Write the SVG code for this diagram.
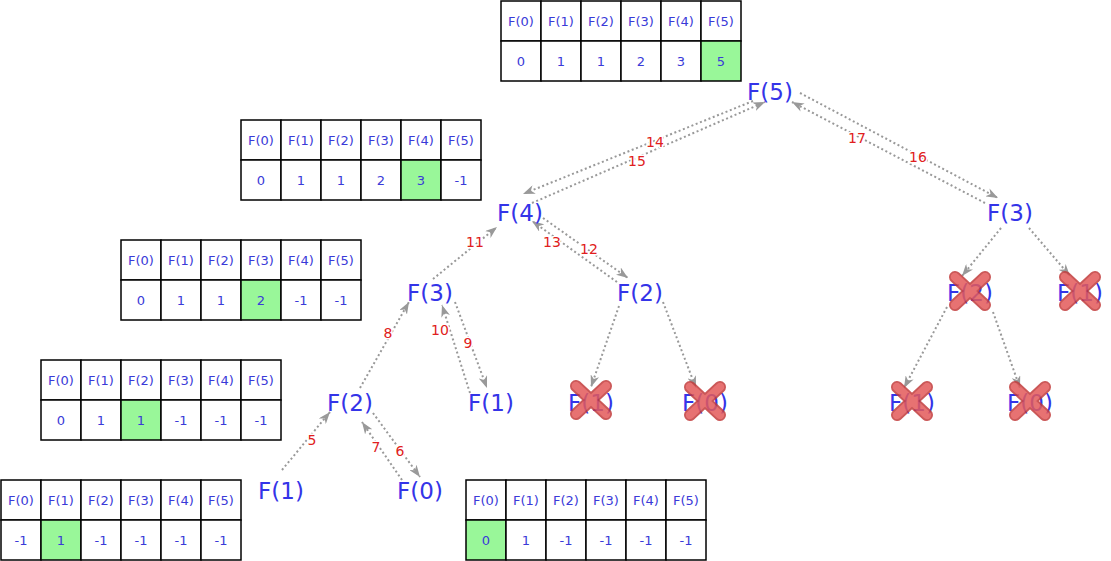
<svg xmlns="http://www.w3.org/2000/svg" width="1111" height="561" viewBox="0 0 1111 561">
<defs>
<style>
.cell{fill:#fff;stroke:#000;stroke-width:1.5}
.hl{fill:#99f799;stroke:#000;stroke-width:1.5}
.ct{font-family:"DejaVu Sans",Verdana,sans-serif;font-size:13px;fill:#3a3ad8;text-anchor:middle}
.node{font-family:"DejaVu Sans",Verdana,sans-serif;font-size:23px;fill:#3434e8;text-anchor:middle}
.edge{fill:none;stroke:#999;stroke-width:2;stroke-dasharray:2 2.6;marker-end:url(#arr)}
.lbl{font-family:"DejaVu Sans",Verdana,sans-serif;font-size:14px;fill:#e02020;text-anchor:middle;stroke:#fff;stroke-width:3;paint-order:stroke}
.xo{stroke:#c23b3b;stroke-width:12;stroke-linecap:round}
.xi{stroke:#e35a5a;stroke-width:8.5;stroke-linecap:round}
</style>
<marker id="arr" viewBox="0 0 12 9" refX="12" refY="4.5" markerWidth="12" markerHeight="9" markerUnits="userSpaceOnUse" orient="auto">
<path d="M0,0 L12,4.5 L0,9 L3.5,4.5 Z" fill="#999"/>
</marker>
<g id="cross">
<g opacity="0.85">
<line class="xo" x1="-15" y1="-14" x2="15" y2="14"/>
<line class="xo" x1="15" y1="-14" x2="-15" y2="14"/>
<line class="xi" x1="-15" y1="-14" x2="15" y2="14"/>
<line class="xi" x1="15" y1="-14" x2="-15" y2="14"/>
</g>
</g>
</defs>
<rect width="1111" height="561" fill="#fff"/>

<!-- tables -->
<g id="table-f5" transform="translate(501,1)">
<rect class="cell" x="0" y="0" width="40" height="40"/><rect class="cell" x="40" y="0" width="40" height="40"/><rect class="cell" x="80" y="0" width="40" height="40"/><rect class="cell" x="120" y="0" width="40" height="40"/><rect class="cell" x="160" y="0" width="40" height="40"/><rect class="cell" x="200" y="0" width="40" height="40"/>
<rect class="cell" x="0" y="40" width="40" height="40"/><rect class="cell" x="40" y="40" width="40" height="40"/><rect class="cell" x="80" y="40" width="40" height="40"/><rect class="cell" x="120" y="40" width="40" height="40"/><rect class="cell" x="160" y="40" width="40" height="40"/><rect class="hl" x="200" y="40" width="40" height="40"/>
<text class="ct" x="20" y="25">F(0)</text><text class="ct" x="60" y="25">F(1)</text><text class="ct" x="100" y="25">F(2)</text><text class="ct" x="140" y="25">F(3)</text><text class="ct" x="180" y="25">F(4)</text><text class="ct" x="220" y="25">F(5)</text>
<text class="ct" x="20" y="65">0</text><text class="ct" x="60" y="65">1</text><text class="ct" x="100" y="65">1</text><text class="ct" x="140" y="65">2</text><text class="ct" x="180" y="65">3</text><text class="ct" x="220" y="65">5</text>
</g>
<g id="table-f4" transform="translate(241,120)">
<rect class="cell" x="0" y="0" width="40" height="40"/><rect class="cell" x="40" y="0" width="40" height="40"/><rect class="cell" x="80" y="0" width="40" height="40"/><rect class="cell" x="120" y="0" width="40" height="40"/><rect class="cell" x="160" y="0" width="40" height="40"/><rect class="cell" x="200" y="0" width="40" height="40"/>
<rect class="cell" x="0" y="40" width="40" height="40"/><rect class="cell" x="40" y="40" width="40" height="40"/><rect class="cell" x="80" y="40" width="40" height="40"/><rect class="cell" x="120" y="40" width="40" height="40"/><rect class="hl" x="160" y="40" width="40" height="40"/><rect class="cell" x="200" y="40" width="40" height="40"/>
<text class="ct" x="20" y="25">F(0)</text><text class="ct" x="60" y="25">F(1)</text><text class="ct" x="100" y="25">F(2)</text><text class="ct" x="140" y="25">F(3)</text><text class="ct" x="180" y="25">F(4)</text><text class="ct" x="220" y="25">F(5)</text>
<text class="ct" x="20" y="65">0</text><text class="ct" x="60" y="65">1</text><text class="ct" x="100" y="65">1</text><text class="ct" x="140" y="65">2</text><text class="ct" x="180" y="65">3</text><text class="ct" x="220" y="65">-1</text>
</g>
<g id="table-f3" transform="translate(121,240)">
<rect class="cell" x="0" y="0" width="40" height="40"/><rect class="cell" x="40" y="0" width="40" height="40"/><rect class="cell" x="80" y="0" width="40" height="40"/><rect class="cell" x="120" y="0" width="40" height="40"/><rect class="cell" x="160" y="0" width="40" height="40"/><rect class="cell" x="200" y="0" width="40" height="40"/>
<rect class="cell" x="0" y="40" width="40" height="40"/><rect class="cell" x="40" y="40" width="40" height="40"/><rect class="cell" x="80" y="40" width="40" height="40"/><rect class="hl" x="120" y="40" width="40" height="40"/><rect class="cell" x="160" y="40" width="40" height="40"/><rect class="cell" x="200" y="40" width="40" height="40"/>
<text class="ct" x="20" y="25">F(0)</text><text class="ct" x="60" y="25">F(1)</text><text class="ct" x="100" y="25">F(2)</text><text class="ct" x="140" y="25">F(3)</text><text class="ct" x="180" y="25">F(4)</text><text class="ct" x="220" y="25">F(5)</text>
<text class="ct" x="20" y="65">0</text><text class="ct" x="60" y="65">1</text><text class="ct" x="100" y="65">1</text><text class="ct" x="140" y="65">2</text><text class="ct" x="180" y="65">-1</text><text class="ct" x="220" y="65">-1</text>
</g>
<g id="table-f2" transform="translate(41,360)">
<rect class="cell" x="0" y="0" width="40" height="40"/><rect class="cell" x="40" y="0" width="40" height="40"/><rect class="cell" x="80" y="0" width="40" height="40"/><rect class="cell" x="120" y="0" width="40" height="40"/><rect class="cell" x="160" y="0" width="40" height="40"/><rect class="cell" x="200" y="0" width="40" height="40"/>
<rect class="cell" x="0" y="40" width="40" height="40"/><rect class="cell" x="40" y="40" width="40" height="40"/><rect class="hl" x="80" y="40" width="40" height="40"/><rect class="cell" x="120" y="40" width="40" height="40"/><rect class="cell" x="160" y="40" width="40" height="40"/><rect class="cell" x="200" y="40" width="40" height="40"/>
<text class="ct" x="20" y="25">F(0)</text><text class="ct" x="60" y="25">F(1)</text><text class="ct" x="100" y="25">F(2)</text><text class="ct" x="140" y="25">F(3)</text><text class="ct" x="180" y="25">F(4)</text><text class="ct" x="220" y="25">F(5)</text>
<text class="ct" x="20" y="65">0</text><text class="ct" x="60" y="65">1</text><text class="ct" x="100" y="65">1</text><text class="ct" x="140" y="65">-1</text><text class="ct" x="180" y="65">-1</text><text class="ct" x="220" y="65">-1</text>
</g>
<g id="table-f1" transform="translate(1,480)">
<rect class="cell" x="0" y="0" width="40" height="40"/><rect class="cell" x="40" y="0" width="40" height="40"/><rect class="cell" x="80" y="0" width="40" height="40"/><rect class="cell" x="120" y="0" width="40" height="40"/><rect class="cell" x="160" y="0" width="40" height="40"/><rect class="cell" x="200" y="0" width="40" height="40"/>
<rect class="cell" x="0" y="40" width="40" height="40"/><rect class="hl" x="40" y="40" width="40" height="40"/><rect class="cell" x="80" y="40" width="40" height="40"/><rect class="cell" x="120" y="40" width="40" height="40"/><rect class="cell" x="160" y="40" width="40" height="40"/><rect class="cell" x="200" y="40" width="40" height="40"/>
<text class="ct" x="20" y="25">F(0)</text><text class="ct" x="60" y="25">F(1)</text><text class="ct" x="100" y="25">F(2)</text><text class="ct" x="140" y="25">F(3)</text><text class="ct" x="180" y="25">F(4)</text><text class="ct" x="220" y="25">F(5)</text>
<text class="ct" x="20" y="65">-1</text><text class="ct" x="60" y="65">1</text><text class="ct" x="100" y="65">-1</text><text class="ct" x="140" y="65">-1</text><text class="ct" x="180" y="65">-1</text><text class="ct" x="220" y="65">-1</text>
</g>
<g id="table-f0" transform="translate(466,480)">
<rect class="cell" x="0" y="0" width="40" height="40"/><rect class="cell" x="40" y="0" width="40" height="40"/><rect class="cell" x="80" y="0" width="40" height="40"/><rect class="cell" x="120" y="0" width="40" height="40"/><rect class="cell" x="160" y="0" width="40" height="40"/><rect class="cell" x="200" y="0" width="40" height="40"/>
<rect class="hl" x="0" y="40" width="40" height="40"/><rect class="cell" x="40" y="40" width="40" height="40"/><rect class="cell" x="80" y="40" width="40" height="40"/><rect class="cell" x="120" y="40" width="40" height="40"/><rect class="cell" x="160" y="40" width="40" height="40"/><rect class="cell" x="200" y="40" width="40" height="40"/>
<text class="ct" x="20" y="25">F(0)</text><text class="ct" x="60" y="25">F(1)</text><text class="ct" x="100" y="25">F(2)</text><text class="ct" x="140" y="25">F(3)</text><text class="ct" x="180" y="25">F(4)</text><text class="ct" x="220" y="25">F(5)</text>
<text class="ct" x="20" y="65">0</text><text class="ct" x="60" y="65">1</text><text class="ct" x="100" y="65">-1</text><text class="ct" x="140" y="65">-1</text><text class="ct" x="180" y="65">-1</text><text class="ct" x="220" y="65">-1</text>
</g>

<!-- connectors -->
<g id="connectors">
<path class="edge" d="M753,101 L523,194"/>
<path class="edge" d="M532,203 L765,102"/>
<path class="edge" d="M800,93 L998,198"/>
<path class="edge" d="M985,203 L792,102"/>
<path class="edge" d="M433,279 L497,227"/>
<path class="edge" d="M543,218 L628,278"/>
<path class="edge" d="M617,282 L532,221"/>
<path class="edge" d="M455,302 L487,388"/>
<path class="edge" d="M470,393 L442,305"/>
<path class="edge" d="M360,388 L409,302"/>
<path class="edge" d="M282,470 L330,412"/>
<path class="edge" d="M373,413 L420,477"/>
<path class="edge" d="M402,480 L362,422"/>
<path class="edge" d="M619,306 L591,387"/>
<path class="edge" d="M663,302 L696,388"/>
<path class="edge" d="M1001,228 L962,276"/>
<path class="edge" d="M1029,228 L1070,276"/>
<path class="edge" d="M947,307 L904,388"/>
<path class="edge" d="M993,312 L1020,388"/>
<text class="lbl" x="655" y="147">14</text>
<text class="lbl" x="637" y="166">15</text>
<text class="lbl" x="918" y="162">16</text>
<text class="lbl" x="857" y="143">17</text>
<text class="lbl" x="475" y="247">11</text>
<text class="lbl" x="552" y="247">13</text>
<text class="lbl" x="589" y="254">12</text>
<text class="lbl" x="440" y="335">10</text>
<text class="lbl" x="468" y="348">9</text>
<text class="lbl" x="388" y="338">8</text>
<text class="lbl" x="312" y="445">5</text>
<text class="lbl" x="376" y="452">7</text>
<text class="lbl" x="400" y="456">6</text>
</g>

<!-- nodes -->
<g id="n-f5"><text class="node" x="770" y="100">F(5)</text></g>
<g id="n-f4"><text class="node" x="520" y="221">F(4)</text></g>
<g id="n-f3r"><text class="node" x="1010" y="221">F(3)</text></g>
<g id="n-f3"><text class="node" x="430" y="301">F(3)</text></g>
<g id="n-f2m"><text class="node" x="640" y="301">F(2)</text></g>
<g id="n-f2r"><text class="node" x="970" y="301">F(2)</text><use href="#cross" x="970" y="291"/></g>
<g id="n-f1rr"><text class="node" x="1080" y="301">F(1)</text><use href="#cross" x="1080" y="291"/></g>
<g id="n-f2l"><text class="node" x="350" y="411">F(2)</text></g>
<g id="n-f1"><text class="node" x="491" y="411">F(1)</text></g>
<g id="n-f1m"><text class="node" x="591" y="411">F(1)</text><use href="#cross" x="591" y="400"/></g>
<g id="n-f0m"><text class="node" x="705" y="411">F(0)</text><use href="#cross" x="705" y="401"/></g>
<g id="n-f1r"><text class="node" x="912" y="411">F(1)</text><use href="#cross" x="912" y="401"/></g>
<g id="n-f0r"><text class="node" x="1030" y="411">F(0)</text><use href="#cross" x="1030" y="401"/></g>
<g id="n-f1b"><text class="node" x="281" y="499">F(1)</text></g>
<g id="n-f0b"><text class="node" x="420" y="499">F(0)</text></g>
</svg>
